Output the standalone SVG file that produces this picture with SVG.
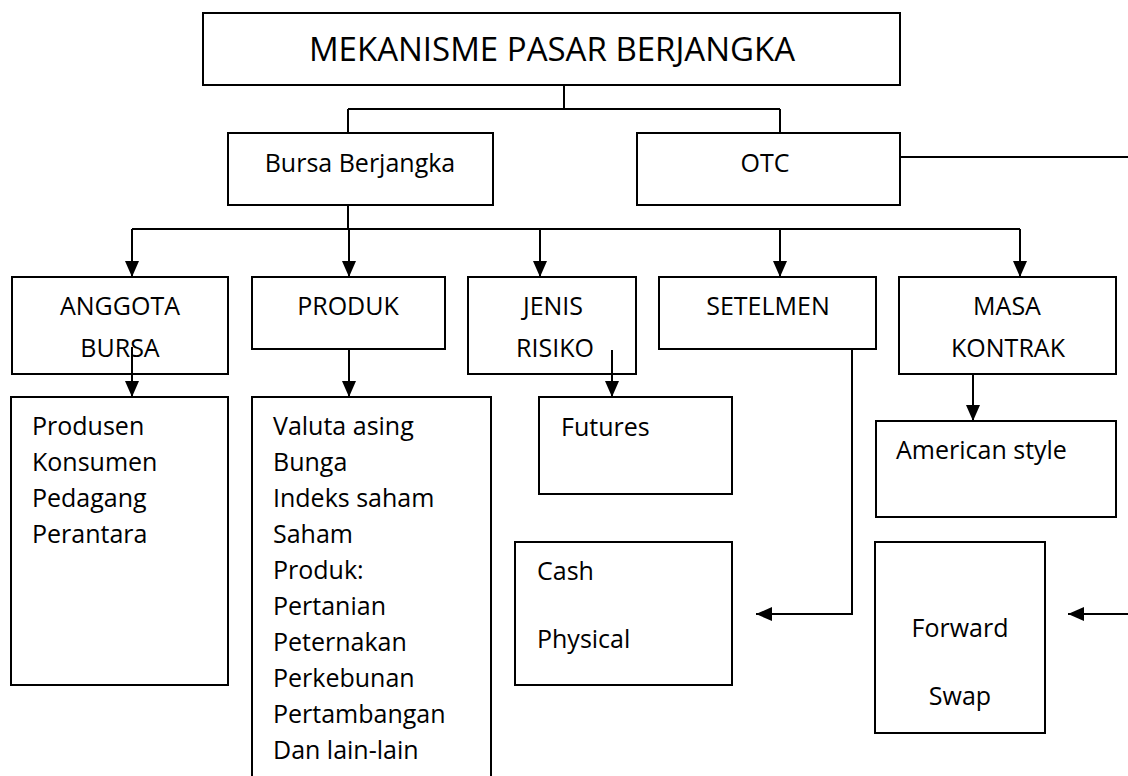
<svg xmlns="http://www.w3.org/2000/svg" width="1128" height="776" viewBox="0 0 1128 776">
<style>
  .box { fill: #ffffff; stroke: #000000; stroke-width: 2; }
  .t { font-family: "Open Sans", "Liberation Sans", sans-serif; font-size: 25px; fill: #000000; }
  .c { text-anchor: middle; }
  .title { font-size: 33px; }
  .ln { fill: none; stroke: #000000; stroke-width: 2; }
  .ar { fill: none; stroke: #000000; stroke-width: 2; marker-end: url(#arrow); }
</style>
<defs>
  <marker id="arrow" markerUnits="userSpaceOnUse" markerWidth="16" markerHeight="15" refX="16" refY="7.5" orient="auto">
    <path d="M0,0.5 L16,7.5 L0,14.5 z" fill="#000000"/>
  </marker>
</defs>
<rect width="1128" height="776" fill="#ffffff"/>

<g id="title">
  <rect class="box" x="203" y="13" width="697" height="72"/>
  <text class="t c title" x="552" y="61">MEKANISME PASAR BERJANGKA</text>
</g>
<g id="bursa-berjangka">
  <rect class="box" x="228" y="133" width="265" height="72"/>
  <text class="t c" x="360" y="172">Bursa Berjangka</text>
</g>
<g id="otc">
  <rect class="box" x="637" y="133" width="263" height="72"/>
  <text class="t c" x="765" y="172">OTC</text>
</g>
<g id="anggota-bursa">
  <rect class="box" x="12" y="277" width="216" height="97"/>
  <text class="t c" x="120" y="315">ANGGOTA</text>
  <text class="t c" x="120" y="357">BURSA</text>
</g>
<g id="produk">
  <rect class="box" x="252" y="277" width="193" height="72"/>
  <text class="t c" x="348" y="315">PRODUK</text>
</g>
<g id="jenis-risiko">
  <rect class="box" x="468" y="277" width="168" height="97"/>
  <text class="t c" x="553" y="315">JENIS</text>
  <text class="t c" x="555" y="357">RISIKO</text>
</g>
<g id="setelmen">
  <rect class="box" x="659" y="277" width="217" height="72"/>
  <text class="t c" x="768" y="315">SETELMEN</text>
</g>
<g id="masa-kontrak">
  <rect class="box" x="899" y="277" width="217" height="97"/>
  <text class="t c" x="1007" y="315">MASA</text>
  <text class="t c" x="1008" y="357">KONTRAK</text>
</g>
<g id="anggota-list">
  <rect class="box" x="11" y="397" width="217" height="288"/>
  <text class="t" x="32" y="435">Produsen</text>
  <text class="t" x="32" y="471">Konsumen</text>
  <text class="t" x="32" y="507">Pedagang</text>
  <text class="t" x="32" y="543">Perantara</text>
</g>
<g id="produk-list">
  <rect class="box" x="252" y="397" width="239" height="390"/>
  <text class="t" x="273" y="435">Valuta asing</text>
  <text class="t" x="273" y="471">Bunga</text>
  <text class="t" x="273" y="507">Indeks saham</text>
  <text class="t" x="273" y="543">Saham</text>
  <text class="t" x="273" y="579">Produk:</text>
  <text class="t" x="273" y="615">Pertanian</text>
  <text class="t" x="273" y="651">Peternakan</text>
  <text class="t" x="273" y="687">Perkebunan</text>
  <text class="t" x="273" y="723">Pertambangan</text>
  <text class="t" x="273" y="759">Dan lain-lain</text>
</g>
<g id="futures">
  <rect class="box" x="539" y="397" width="193" height="97"/>
  <text class="t" x="561" y="436">Futures</text>
</g>
<g id="american-style">
  <rect class="box" x="876" y="421" width="240" height="96"/>
  <text class="t" x="896" y="459">American style</text>
</g>
<g id="cash-physical">
  <rect class="box" x="515" y="542" width="217" height="143"/>
  <text class="t" x="537" y="580">Cash</text>
  <text class="t" x="537" y="648">Physical</text>
</g>
<g id="forward-swap">
  <rect class="box" x="875" y="542" width="170" height="191"/>
  <text class="t c" x="960" y="637">Forward</text>
  <text class="t c" x="960" y="705">Swap</text>
</g>

<g id="connectors">
  <path class="ln" d="M564,86 V109 M348,109 H780 M348,109 V132 M780,109 V132"/>
  <path class="ln" d="M348,206 V229 M132,229 H1020"/>
  <path class="ar" d="M132,229 V277"/>
  <path class="ar" d="M349,229 V277"/>
  <path class="ar" d="M540,229 V277"/>
  <path class="ar" d="M780,229 V277"/>
  <path class="ar" d="M1020,229 V277"/>
  <path class="ar" d="M132,347 V397"/>
  <path class="ar" d="M349,350 V397"/>
  <path class="ar" d="M612,350 V397"/>
  <path class="ar" d="M973,375 V421"/>
  <path class="ar" d="M852,350 V614 H756"/>
  <path class="ln" d="M901,157 H1128"/>
  <path class="ar" d="M1128,614 H1068"/>
</g>
</svg>
